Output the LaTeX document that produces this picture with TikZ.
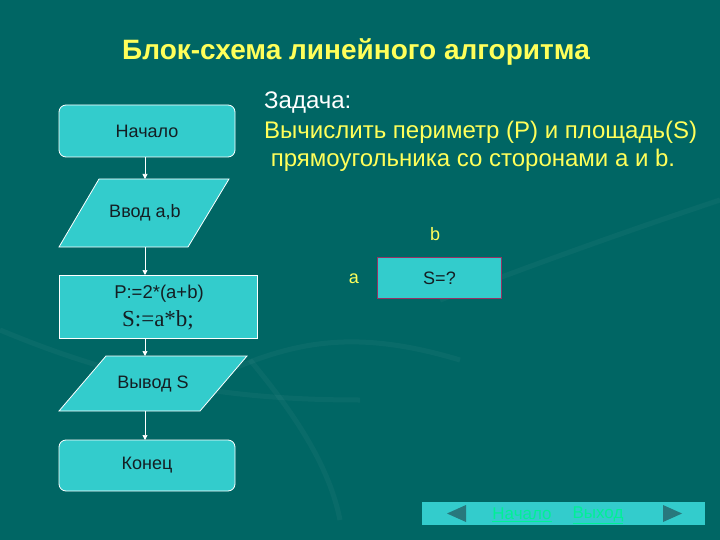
\documentclass[tikz,border=0pt]{standalone}
\usepackage{fontspec}
\setmainfont{Liberation Sans}
\newfontfamily\serifx{Liberation Serif}
\usetikzlibrary{arrows.meta,shapes.geometric}
\definecolor{bg}{RGB}{0,102,100}
\definecolor{boxc}{RGB}{51,204,204}
\definecolor{ttl}{RGB}{255,255,90}
\definecolor{txt}{RGB}{20,30,35}
\definecolor{navtri}{RGB}{40,120,125}
\definecolor{navtxt}{RGB}{0,240,150}
\definecolor{redb}{RGB}{150,50,100}
\tikzset{
  term/.style={draw=white,line width=0.8pt,fill=boxc,rounded corners=7pt,text=txt,font=\fontsize{18}{21}\selectfont},
  proc/.style={draw=white,line width=0.8pt,fill=boxc,text=txt},
  io/.style={draw=white,line width=0.8pt,fill=boxc},
  iotext/.style={text=txt,font=\fontsize{18}{21}\selectfont},
  flow/.style={draw=white,line width=0.7pt,-{Triangle[width=5pt,length=5pt]}},
  yel/.style={text=ttl,font=\fontsize{24}{28}\selectfont,anchor=west,inner sep=0pt},
}
\begin{document}
\begin{tikzpicture}[x=1pt,y=-1pt]
\fill[bg] (0,0) rectangle (720,540);
\useasboundingbox (0,0) rectangle (720,540);
% faint background swooshes
\begin{scope}[draw=white,opacity=0.035,line width=5pt]
\draw (0,330) .. controls (120,380) and (220,400) .. (360,400);
\draw (250,360) .. controls (300,420) and (330,470) .. (340,520);
\draw (230,370) .. controls (300,340) and (360,330) .. (460,360);
\draw (440,300) .. controls (520,270) and (600,240) .. (720,200);
\end{scope}
% title
\node[text=ttl,font=\bfseries\fontsize{28}{32}\selectfont] (title) at (356,52) {Блок-схема линейного алгоритма};
% flowchart
\node[term,minimum width=176pt,minimum height=52pt] (start) at (147,131) {Начало};
\fill[io,draw=white] (99,179) -- (229,179) -- (188,247) -- (59,247) -- cycle;
\coordinate (inT) at (145,179); \coordinate (inB) at (145,247);
\node[iotext] (input) at (145,213) {Ввод a,b};
\node[proc,minimum width=198pt,minimum height=63pt] (calc) at (158,306.5) {};
\node[text=txt,font=\fontsize{18.5}{21}\selectfont] (calc1) at (159,294) {P:=2*(a+b)};
\node[text=txt,font=\serifx\fontsize{23}{25}\selectfont] (calc2) at (158,320) {S:=a*b;};
\fill[io,draw=white] (106,356) -- (247,356) -- (200,411) -- (59,411) -- cycle;
\coordinate (outT) at (145,356); \coordinate (outB) at (145,411);
\node[iotext] (output) at (153,384) {Вывод S};
\node[term,minimum width=176pt,minimum height=51pt] (end) at (147,465.5) {Конец};
\draw[flow] (145,157) -- (inT);
\draw[flow] (inB) -- (145,275);
\draw[flow] (145,338) -- (outT);
\draw[flow] (outB) -- (145,440);
% task text
\node[yel,text=white] (task) at (264,103) {Задача:};
\node[yel] (l1) at (264,132) {Вычислить периметр (P) и площадь(S)};
\node[yel] (l2) at (264,160) {\ прямоугольника со сторонами a и b.};
% rectangle
\node[draw=redb,line width=1.5pt,fill=boxc,minimum width=124pt,minimum height=41pt,text=txt,font=\fontsize{18}{21}\selectfont] (rect) at (439.5,278) {S=?};
\node[text=ttl,font=\fontsize{18}{21}\selectfont] (lb) at (435,234) {b};
\node[text=ttl,font=\fontsize{18}{21}\selectfont] (la) at (354,279) {a};
% nav bar
\node[fill=boxc,minimum width=283pt,minimum height=23pt,inner sep=0pt] (nav) at (563.5,513.5) {};
\fill[navtri] (447,513.5) -- (466,505) -- (466,522) -- cycle;
\fill[navtri] (682,513.5) -- (663,505) -- (663,522) -- cycle;
\node[text=navtxt,font=\fontsize{17}{19}\selectfont,inner sep=0pt] (nstart) at (522,515) {\underline{Начало}};
\node[text=navtxt,font=\fontsize{17}{19}\selectfont,inner sep=0pt] (nexit) at (598,515) {\underline{Выход}};
\end{tikzpicture}
\end{document}
